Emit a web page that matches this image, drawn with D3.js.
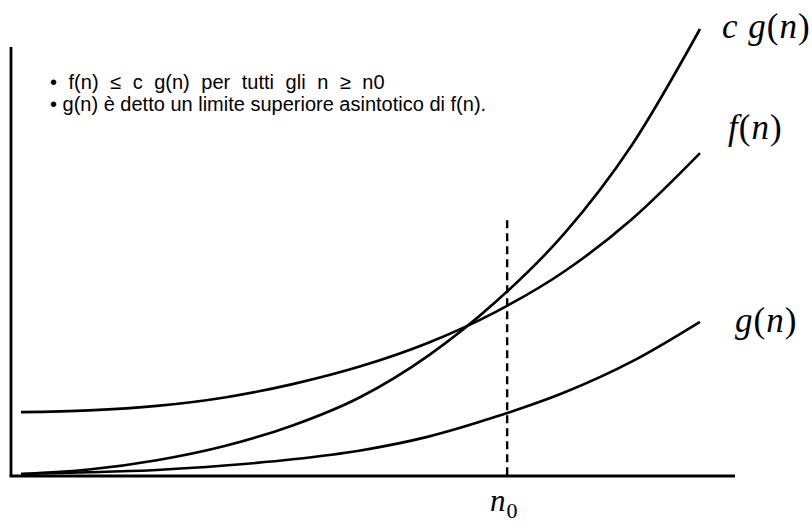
<html>
<head><script src="https://d3js.org/d3.v7.min.js"></script></head>
<body style="margin:0">
<svg class="chart" width="812" height="525"></svg>
<script>
var nValues  = [0, 1, 2, 3, 4, 5, 6, 7, 8, 9, 10];
var cgValues = [0, 1.0, 3.1, 6.3, 10.9, 17.3, 26.6, 38.8, 54.0, 74.0, 100];
var fValues  = [13.9, 14.3, 15.3, 17.2, 20.2, 24.2, 29.5, 36.5, 45.5, 57.3, 72.1];
var gValues  = [0, 0.4, 0.9, 1.9, 3.3, 5.3, 8.4, 12.9, 18.3, 25.3, 34.2];
var n0 = 7.16;
var n0Top = 57;
var bullets = ["f(n) \u2264 c g(n) per tutti gli n \u2265 n0",
               "g(n) \u00e8 detto un limite superiore asintotico di f(n)."];

var svg = d3.select(".chart");

var x = d3.scaleLinear().domain([0, 10]).range([21, 700]);
var y = d3.scaleLinear().domain([0, 100]).range([474, 29]);

// axes: plain lines, no ticks
svg.append("line").attr("x1", 11).attr("y1", 47).attr("x2", 11).attr("y2", 477)
  .attr("stroke", "#000").attr("stroke-width", 2.8);
svg.append("line").attr("x1", 9.6).attr("y1", 476).attr("x2", 735).attr("y2", 476)
  .attr("stroke", "#000").attr("stroke-width", 2.8);

var line = d3.line()
  .x(function(d, i) { return x(nValues[i]); })
  .y(function(d) { return y(d); })
  .curve(d3.curveMonotoneX);

[cgValues, fValues, gValues].forEach(function(s) {
  svg.append("path").attr("d", line(s))
    .attr("fill", "none").attr("stroke", "#000").attr("stroke-width", 2.6);
});

// n0 marker
svg.append("line").attr("x1", x(n0)).attr("x2", x(n0))
  .attr("y1", y(n0Top)).attr("y2", y(0) + 2)
  .attr("stroke", "#000").attr("stroke-width", 2.4)
  .attr("stroke-dasharray", "8,5");

// bullet text (first line has wider gaps in the original)
bullets.forEach(function(t, i) {
  svg.append("text").attr("x", 50).attr("y", 89 + i * 22)
    .style("font-family", "'Liberation Sans', Arial, sans-serif")
    .style("font-size", "20px")
    .style("word-spacing", i === 0 ? "6px" : "0px")
    .text("\u2022 " + t);
});

// curve labels, math style
function mathLabel(xp, yp, size, parts) {
  var t = svg.append("text").attr("x", xp).attr("y", yp)
    .style("font-family", "'Liberation Serif', 'Times New Roman', serif")
    .style("font-size", size + "px")
    .style("letter-spacing", "1px");
  parts.forEach(function(p) {
    t.append("tspan").style("font-style", p[1] ? "italic" : "normal").text(p[0]);
  });
  return t;
}
mathLabel(722, 38, 35, [["c", 1], ["\u00a0", 0], ["g", 1], ["(", 0], ["n", 1], [")", 0]]);
mathLabel(728, 139, 35, [["f", 1], ["(", 0], ["n", 1], [")", 0]]);
mathLabel(735, 332, 35, [["g", 1], ["(", 0], ["n", 1], [")", 0]]);

var nt = mathLabel(490, 511, 31, [["n", 1]]);
nt.append("tspan").attr("dy", 7).style("font-size", "22px").text("0");
</script>
</body>
</html>
